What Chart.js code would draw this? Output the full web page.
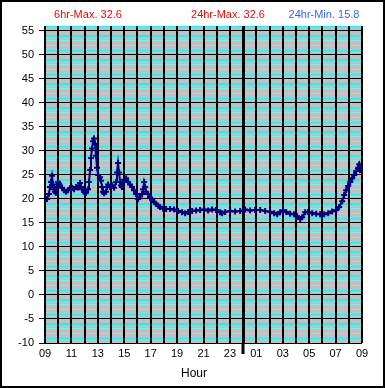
<!DOCTYPE html>
<html lang="en">
<head>
  <meta charset="UTF-8" />
  <title>Temperature 24hr</title>
  <script src="https://cdn.jsdelivr.net/npm/chart.js"></script>
  <style>
    body { margin: 0; background: #fff; font-family: "Liberation Sans", Arial, sans-serif; }
    #wrap { position: relative; width: 385px; height: 388px; }
    #wrap canvas { position: absolute; left: 0; top: 0; }
    .frame { position: absolute; inset: 0; border: 2px solid #000; pointer-events: none; }
    .hdr { position: absolute; top: 8px; font-size: 11px; line-height: 13px; white-space: nowrap; transform: translateX(-50%); }
    #xtitle { position: absolute; top: 366px; left: 194px; font-size: 12px; line-height: 14px; transform: translateX(-50%); }
  </style>
</head>
<body>
  <div id="wrap">
    <canvas id="graphique" width="385" height="388"></canvas>
    <span class="hdr" style="left:88px;color:#ff0000">6hr-Max. 32.6</span>
    <span class="hdr" style="left:228px;color:#ff0000">24hr-Max. 32.6</span>
    <span class="hdr" style="left:324px;color:#3366ff">24hr-Min. 15.8</span>
    <div id="xtitle">Hour</div>
    <div class="frame"></div>
  </div>

  <script>
    // hours after 09:00 and temperature readings
    const heures = [0, 0.15, 0.30, 0.38, 0.45, 0.53, 0.61, 0.68, 0.76, 0.83, 0.91, 0.98, 1.06, 1.14, 1.29, 1.44, 1.59, 1.74, 1.89, 2.05,
      2.20, 2.35, 2.50, 2.65, 2.73, 2.80, 2.95, 3.11, 3.26, 3.33, 3.41, 3.48, 3.56, 3.64, 3.71, 3.79, 3.86, 3.94, 4.02, 4.17,
      4.24, 4.32, 4.39, 4.47, 4.62, 4.70, 4.77, 4.92, 5.08, 5.23, 5.38, 5.45, 5.53, 5.61, 5.68, 5.76, 5.83, 5.98, 6.14, 6.29,
      6.44, 6.59, 6.74, 6.89, 7.05, 7.20, 7.35, 7.42, 7.50, 7.58, 7.65, 7.80, 7.95, 8.11, 8.26, 8.41, 8.56, 8.71, 8.94, 9.17,
      9.47, 9.77, 10.08, 10.38, 10.61, 10.83, 11.14, 11.44, 11.74, 12.05, 12.35, 12.65, 12.95, 13.26, 13.41, 13.64, 14.02, 14.39, 14.77, 15.15,
      15.53, 15.91, 16.29, 16.67, 17.05, 17.35, 17.58, 17.80, 18.03, 18.26, 18.56, 18.86, 19.09, 19.32, 19.47, 19.70, 19.92, 20.23, 20.53, 20.83,
      21.14, 21.44, 21.74, 22.05, 22.27, 22.50, 22.65, 22.80, 22.95, 23.11, 23.26, 23.41, 23.56, 23.71, 23.79, 23.86, 23.94];
    const temperatures = [19.6, 20.0, 21.0, 22.5, 23.5, 24.8, 23.0, 22.0, 21.5, 21.3, 22.5, 23.5, 23.2, 22.8, 22.3, 21.8, 21.5, 21.8, 22.2, 22.3,
      22.0, 22.5, 22.4, 23.3, 22.5, 22.0, 21.5, 21.3, 22.0, 23.5, 26.0, 28.5, 30.5, 32.0, 32.6, 31.5, 29.0, 26.5, 25.0, 24.5,
      23.8, 22.5, 21.5, 21.2, 21.5, 22.5, 23.0, 22.5, 22.8, 22.3, 23.5, 25.5, 27.5, 25.5, 23.5, 22.8, 22.5, 24.0, 24.3, 23.5,
      23.0, 22.5, 21.8, 21.0, 20.0, 20.5, 21.0, 22.0, 23.5, 22.5, 21.5, 21.0, 20.3, 19.8, 19.3, 19.0, 18.6, 18.3, 18.0, 17.9,
      17.9, 17.8, 17.5, 17.2, 17.0, 17.3, 17.5, 17.6, 17.7, 17.8, 17.6, 17.8, 17.7, 17.2, 17.0, 17.3, 17.5, 17.4, 17.5, 17.8,
      17.6, 17.7, 17.7, 17.5, 17.3, 17.0, 16.8, 17.2, 17.6, 17.3, 16.9, 16.8, 16.4, 15.8, 16.2, 17.2, 17.3, 17.0, 16.9, 16.8,
      16.8, 17.0, 17.4, 17.7, 18.3, 19.5, 20.8, 21.8, 22.7, 23.5, 24.3, 25.0, 25.8, 26.5, 27.2, 26.0, 26.5];
    const heureDebut = 9;   // first x label = 09
    const minuit = 15;      // 00:00 is 15 h after start
    const yMin = -10, yMax = 56;

    // position of a value inside its 5-degree band (0 = black line)
    const bande = v => ((v % 5) + 5) % 5;

    const fondGris = {
      id: 'fondGris',
      beforeDraw(chart) {
        const { ctx, chartArea: a } = chart;
        ctx.save();
        ctx.fillStyle = '#c0c0c0';
        ctx.fillRect(a.left, a.top, a.right - a.left, a.bottom - a.top);
        ctx.restore();
      },
      afterDraw(chart) {
        // midnight marker sticking out below the axis
        const { ctx, chartArea: a } = chart;
        const x = Math.round(chart.scales.x.getPixelForValue(minuit));
        ctx.save();
        ctx.strokeStyle = '#000';
        ctx.lineWidth = 3;
        ctx.beginPath();
        ctx.moveTo(x, a.bottom);
        ctx.lineTo(x, a.bottom + 11);
        ctx.stroke();
        ctx.restore();
      }
    };

    const points = heures.map((h, i) => ({ x: h, y: temperatures[i] }));

    new Chart(document.getElementById('graphique').getContext('2d'), {
      type: 'line',
      data: { datasets: [{
        data: points,
        borderColor: '#000080',
        backgroundColor: '#000080',
        borderWidth: 2,
        pointStyle: 'cross',
        pointRadius: 3,
        pointBorderWidth: 2,
        tension: 0,
        fill: false
      }]},
      options: {
        responsive: false,
        animation: false,
        layout: { padding: { left: 0, right: 23, top: 26, bottom: 25 } },
        plugins: { legend: { display: false }, tooltip: { enabled: false } },
        scales: {
          y: {
            min: yMin, max: yMax,
            border: { display: false },
            afterFit(s) { s.width = 45; },
            grid: {
              color: c => {
                const b = bande(c.tick.value);
                return b === 0 ? '#000' : (b === 1 || b === 4 ? '#00ffff' : '#8ee4e4');
              },
              lineWidth: c => bande(c.tick.value) === 4 ? 2 : 1,
              tickColor: c => bande(c.tick.value) === 0 && c.tick.value <= 55 ? '#000' : 'rgba(0,0,0,0)',
              tickLength: 6
            },
            ticks: {
              stepSize: 1, autoSkip: false, maxTicksLimit: 100, padding: 5,
              color: '#000', font: { family: 'Liberation Sans', size: 11 },
              callback: v => v % 5 === 0 && v <= 55 ? String(v) : ''
            }
          },
          x: {
            type: 'linear', min: 0, max: 24,
            border: { display: false },
            afterFit(s) { s.height = 20; },
            grid: {
              color: '#000',
              lineWidth: c => c.tick && c.tick.value === minuit ? 3 : 2,
              drawTicks: false
            },
            ticks: {
              stepSize: 1, autoSkip: false, maxTicksLimit: 30, maxRotation: 0, padding: 4,
              color: '#000', font: { family: 'Liberation Sans', size: 11 },
              callback: v => v % 2 === 0 ? String((heureDebut + v) % 24).padStart(2, '0') : ''
            }
          }
        }
      },
      plugins: [fondGris]
    });
  </script>
</body>
</html>
